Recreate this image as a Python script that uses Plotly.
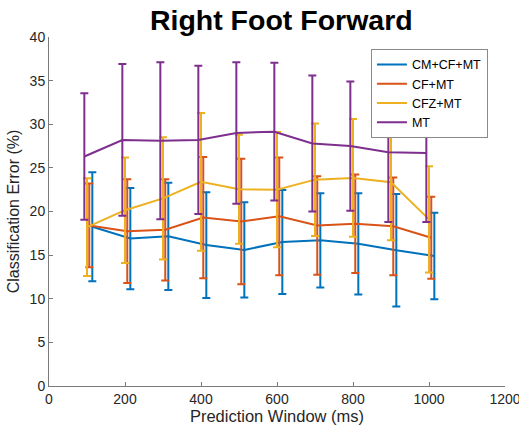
import plotly.graph_objects as go

windows = [100, 200, 300, 400, 500, 600, 700, 800, 900, 1000]
series_names = ["CM+CF+MT", "CF+MT", "CFZ+MT", "MT"]
colors = ["#0072BD", "#D95319", "#EDB120", "#7E2F8E"]
x_offsets = [14, 6, 0, -7]

cm_cf_mt_mean = [18.25, 16.9, 17.15, 16.15, 15.6, 16.5, 16.7, 16.3, 15.55, 14.9]
cm_cf_mt_std = [6.25, 5.8, 6.15, 6.05, 5.45, 5.95, 5.4, 5.8, 6.45, 4.95]
cf_mt_mean = [18.4, 17.75, 17.9, 19.3, 18.85, 19.45, 18.4, 18.6, 18.3, 17.0]
cf_mt_std = [4.8, 5.95, 5.8, 6.95, 7.2, 6.75, 5.65, 5.65, 5.6, 4.7]
cfz_mt_mean = [18.2, 20.15, 21.5, 23.4, 22.55, 22.5, 23.65, 23.85, 23.35, 19.1]
cfz_mt_std = [5.6, 6.05, 7.0, 7.9, 6.25, 6.6, 6.45, 6.75, 6.65, 6.1]
mt_mean = [26.3, 28.2, 28.1, 28.2, 29.0, 29.15, 27.8, 27.5, 26.8, 26.7]
mt_std = [7.25, 8.7, 9.0, 8.5, 8.1, 7.9, 7.8, 7.4, 8.0, 7.9]

means = [cm_cf_mt_mean, cf_mt_mean, cfz_mt_mean, mt_mean]
stds = [cm_cf_mt_std, cf_mt_std, cfz_mt_std, mt_std]

x_ticks = [0, 200, 400, 600, 800, 1000, 1200]
y_ticks = [0, 5, 10, 15, 20, 25, 30, 35, 40]

fig = go.Figure()
for name, color, off, m, s in zip(series_names, colors, x_offsets, means, stds):
    fig.add_trace(go.Scatter(
        x=[w + off for w in windows], y=m, name=name, mode="lines",
        line=dict(color=color, width=2),
        error_y=dict(type="data", array=s, visible=True, color=color,
                     thickness=2, width=4),
    ))

axis_color = "#7a7a7a"
text_color = "#262626"
fig.update_layout(
    width=519, height=436,
    margin=dict(l=49, r=14, t=37, b=50),
    paper_bgcolor="white", plot_bgcolor="white",
    font=dict(family="Liberation Sans, Arial, sans-serif", size=14, color=text_color),
    title=dict(text="<b>Right Foot Forward</b>", x=0.542, xanchor="center",
               y=0.932, yanchor="bottom",
               font=dict(size=28.5, color="black", family="Liberation Sans, Arial, sans-serif")),
    xaxis=dict(range=[0, 1200], tickvals=x_ticks, ticks="inside", ticklen=4,
               tickcolor=axis_color, showline=True, linecolor=axis_color, linewidth=1,
               showgrid=False, zeroline=False, tickfont=dict(size=14), automargin=False,
               ticklabeloverflow="allow",
               title=dict(text="Prediction Window (ms)", font=dict(size=16.5), standoff=0)),
    yaxis=dict(range=[0, 40], tickvals=y_ticks, ticks="inside", ticklen=4,
               tickcolor=axis_color, showline=True, linecolor=axis_color, linewidth=1,
               showgrid=False, zeroline=False, tickfont=dict(size=14), automargin=False,
               title=dict(text="Classification Error (%)", font=dict(size=16), standoff=6)),
    legend=dict(x=0.706, y=0.966, xanchor="left", yanchor="top",
                bgcolor="white", bordercolor="#8a8a8a", borderwidth=1,
                font=dict(size=12.5, color="black"), tracegroupgap=0,
                itemwidth=30),
    showlegend=True,
)

fig.write_html("out.html", config={"displayModeBar": False},
               post_script="document.body.style.margin='0px';")
